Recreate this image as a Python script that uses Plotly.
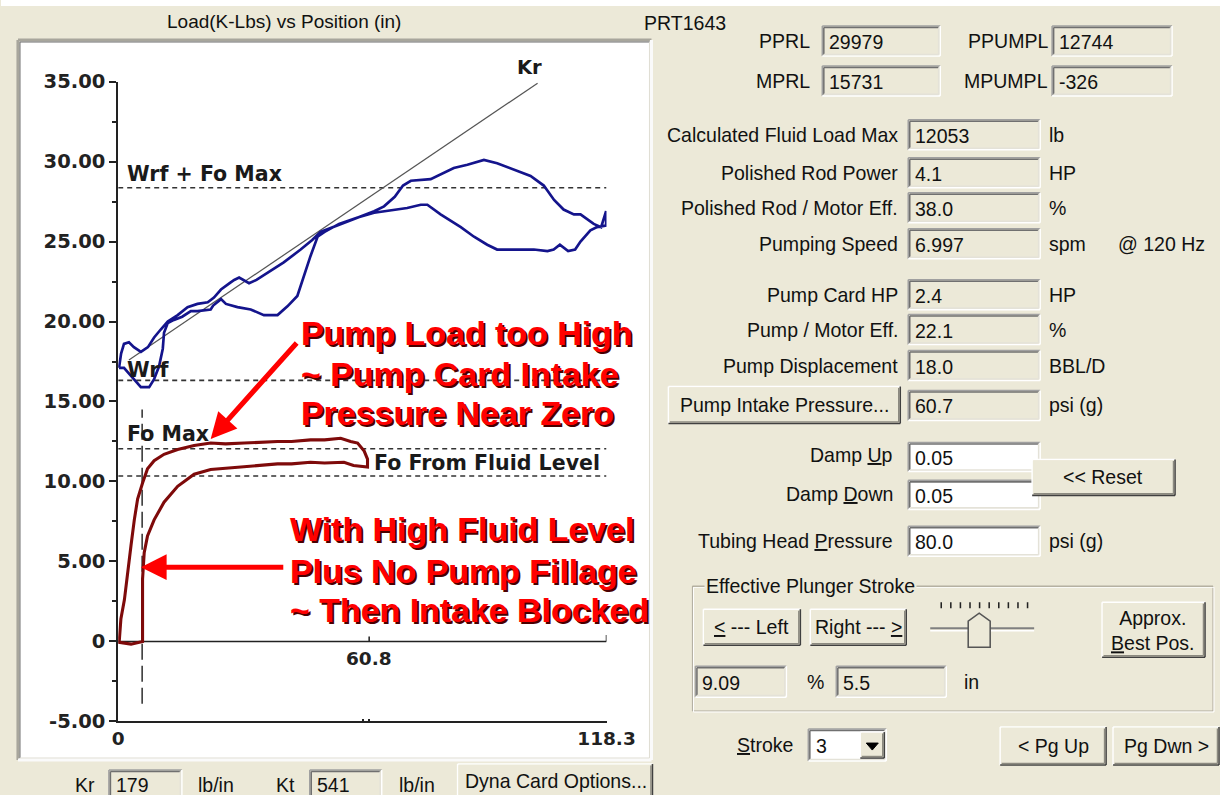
import plotly.graph_objects as go

W, H = 1220, 795          # reference pixel space used for layout positions
K = 1.0277                # page scale compensation
FW, FH = round(W * K), round(H * K)
BG = "#ECE9D8"
UI_FONT = "Liberation Sans"
UI_SIZE = 19
PLOT_FONT = "DejaVu Sans"

# ---------------- chart data ----------------
y_tick_vals = [-5, 0, 5, 10, 15, 20, 25, 30, 35]
y_tick_text = ["-5.00", "0", "5.00", "10.00", "15.00", "20.00", "25.00", "30.00", "35.00"]
y_minor_vals = [-2.5, 2.5, 7.5, 12.5, 17.5, 22.5, 27.5, 32.5]
x_tick_vals = [0, 118.3]
x_tick_text = ["0", "118.3"]
x_minor_vals = [59.4, 60.8]
x_mid_tick = 60.8
x_mid_label = "60.8"

# surface (polished rod) card: position (in), load (K-lbs)
surface_pos = [0.2, 0.7, 1.4, 2.6, 3.8, 5.5, 7.2, 8.7, 10.3, 12.0, 14.4, 16.8, 19.2, 21.7, 23.2,
               24.9, 27.0, 28.1, 29.3, 30.5, 31.7, 33.5, 36.2, 40.1, 44.2, 47.0, 49.0, 53.1, 58.0,
               62.0, 64.4, 67.0, 69.0, 70.9, 75.7, 78.1, 81.3, 84.6, 88.6, 91.8, 95.8, 99.9,
               103.1, 105.6, 107.9, 110.4, 112.0, 115.2, 117.0, 118.2, 118.2, 116.0,
               114.4, 112.0, 110.7, 109.0, 107.0, 105.5, 104.0, 100.7, 96.7, 91.8, 89.4, 86.2,
               83.0, 78.1, 74.9, 73.3, 70.0, 66.9, 64.4, 62.0, 58.0, 53.5, 50.0, 48.3, 46.6,
               45.0, 43.4, 41.0, 38.6, 35.3, 32.1, 28.9, 26.1, 24.9, 23.0, 22.4, 19.2, 17.6,
               15.5, 13.5, 12.0, 11.1, 10.8, 9.9, 8.7, 7.5, 5.5, 3.1, 1.4, 0.2]
surface_load = [17.1, 18.0, 18.6, 18.7, 18.4, 18.1, 18.4, 19.0, 19.5, 20.0, 20.4, 20.9, 21.1, 21.2, 21.5,
                22.0, 22.4, 22.6, 22.75, 22.6, 22.4, 22.6, 23.05, 23.7, 24.5, 25.1, 25.6, 26.0, 26.5,
                26.9, 27.2, 27.8, 28.5, 28.8, 28.9, 29.2, 29.6, 29.8, 30.1, 29.9, 29.5, 29.1,
                28.5, 27.6, 27.0, 26.7, 26.7, 26.1, 25.9, 26.9, 26.0, 25.9,
                25.7, 25.0, 24.5, 24.4, 24.8, 24.5, 24.4, 24.5, 24.5, 24.5, 24.8, 25.3,
                25.9, 26.7, 27.3, 27.3, 27.1, 27.0, 26.9, 26.8, 26.5, 26.1, 25.6, 25.3, 24.1,
                22.8, 21.6, 20.95, 20.4, 20.4, 20.75, 20.9, 21.1, 21.4, 21.0, 20.75, 20.65, 20.65,
                20.3, 20.1, 19.9, 19.3, 18.3, 17.2, 16.4, 15.9, 15.9, 16.6, 17.1, 17.1]

# pump card
pump_pos = [0.25, 0.65, 1.5, 2.3, 3.1, 3.9, 4.7, 5.9, 7.1, 8.7, 11.1, 14.4, 18.4, 22.4, 26.0,
            30.5, 34.0, 38.6, 42.0, 46.6, 50.0, 53.9, 56.3, 58.0, 59.6, 60.4, 60.4,
            57.0, 54.7, 50.0, 46.6, 42.0, 38.6, 34.0, 30.5, 26.0, 22.4, 18.4, 14.4, 11.1,
            8.7, 7.1, 6.3, 5.9, 5.9, 5.9, 5.9, 3.1, 0.25, 0.25]
pump_load = [0.0, 1.4, 2.6, 4.5, 6.0, 7.6, 8.9, 9.9, 10.8, 11.3, 11.7, 12.0, 12.25, 12.4, 12.35,
             12.4, 12.45, 12.5, 12.5, 12.6, 12.6, 12.7, 12.5, 12.4, 11.9, 11.4, 10.9,
             11.0, 11.2, 11.15, 11.2, 11.1, 11.1, 11.0, 10.95, 10.85, 10.75, 10.45, 9.7, 8.7,
             7.6, 6.6, 5.55, 3.9, 2.2, 0.97, 0.0, -0.17, -0.06, 0.0]

kr_pos = [2.6, 101.6]
kr_load = [17.6, 34.9]

ref_names = ["Wrf + Fo Max", "Wrf", "Fo Max", "Fo From Fluid Level"]
ref_loads = [28.37, 16.32, 12.05, 10.34]
ref_label_pos = [1.6, 1.6, 1.6, 61.6]
ref_label_load = [29.2, 17.0, 12.95, 11.15]

marker_pos = 5.8
marker_load = [-3.9, 14.5]

note1_lines = ["Pump Load too High", "~ Pump Card Intake", "Pressure Near Zero"]
note2_lines = ["With High Fluid Level", "Plus No Pump Fillage", "~ Then Intake Blocked"]

# ---------------- form data ----------------
top_labels = ["PPRL", "PPUMPL", "MPRL", "MPUMPL"]
top_values = ["29979", "12744", "15731", "-326"]
field_labels = ["Calculated Fluid Load Max", "Polished Rod Power", "Polished Rod / Motor Eff.",
                "Pumping Speed", "Pump Card HP", "Pump / Motor Eff.", "Pump Displacement"]
field_values = ["12053", "4.1", "38.0", "6.997", "2.4", "22.1", "18.0"]
field_units = ["lb", "HP", "%", "spm", "HP", "%", "BBL/D"]
field_rows_px = [135, 173, 208, 244, 295, 330, 366]

shapes, annos = [], []


def yp(y):
    return 1 - y / H


def line(x0, y0, x1, y1, color, w=1.5, layer="below"):
    shapes.append(dict(type="line", xref="paper", yref="paper", x0=x0 / W, x1=x1 / W, y0=yp(y0),
                       y1=yp(y1), line=dict(color=color, width=w * K), layer=layer))


def rect(x0, y0, x1, y1, fill, layer="below"):
    shapes.append(dict(type="rect", xref="paper", yref="paper", x0=x0 / W, x1=x1 / W,
                       y0=yp(y1), y1=yp(y0), fillcolor=fill, line=dict(width=0), layer=layer))


def bevel(x0, y0, x1, y1, tl, br, w=1.5, layer="below"):
    line(x0, y0, x1, y0, tl, w, layer)
    line(x0, y0, x0, y1, tl, w, layer)
    line(x0, y1, x1, y1, br, w, layer)
    line(x1, y0, x1, y1, br, w, layer)


def sunken(x0, y0, x1, y1, fill=BG):
    rect(x0, y0, x1, y1, fill)
    bevel(x0, y0, x1, y1, "#A0A0A0", "#FFFFFF")
    bevel(x0 + 1.5, y0 + 1.5, x1 - 1.5, y1 - 1.5, "#707070", "#E4E2D8")


def raised(x0, y0, x1, y1):
    rect(x0, y0, x1, y1, BG)
    bevel(x0, y0, x1, y1, "#FFFFFF", "#404040")
    bevel(x0 + 1.5, y0 + 1.5, x1 - 1.5, y1 - 1.5, BG, "#8C8A80")


def text(x, y, s, anchor="left", size=UI_SIZE, color="#111111", family=UI_FONT, bg=None,
         weight="normal", shadow=None):
    font = dict(family=family, size=size * K, color=color, weight=weight)
    if shadow:
        font["shadow"] = shadow
    a = dict(xref="paper", yref="paper", x=x / W, y=yp(y), text=s, showarrow=False,
             xanchor=anchor, yanchor="middle", font=font)
    if bg:
        a["bgcolor"] = bg
    annos.append(a)


# ---------------- window chrome ----------------
rect(0, 0, W, 6, "#FFFFFF")
text(283, 22, "Load(K-Lbs) vs Position (in)", "center", 18.5)

# white chart panel
rect(17, 40, 651, 761, "#FFFFFF")
bevel(17, 40, 651, 761, "#A8A69C", "#FAFAFA", w=3)
bevel(19, 42, 649, 759, "#6E6E6E", "#E0DED4", w=1)

# ---------------- right panel ----------------
text(642, 23, "PRT1643")
for i, (lab, val) in enumerate(zip(top_labels, top_values)):
    col, row = i % 2, i // 2
    yc = 41 + row * 40
    lx, bx0, bx1 = (812, 822, 940) if col == 0 else (1050, 1052, 1172)
    text(lx, yc, lab, "right")
    sunken(bx0, yc - 15, bx1, yc + 15)
    text(bx0 + 5, yc + 1, val)

for lab, val, unit, yc in zip(field_labels, field_values, field_units, field_rows_px):
    text(900, yc, lab, "right")
    sunken(908, yc - 15, 1040, yc + 15)
    text(913, yc + 1, val)
    text(1047, yc, unit)
text(1116, 244, "@ 120 Hz")

raised(668, 387, 900, 424)
text(784, 406, "Pump Intake Pressure...", "center")
sunken(908, 391, 1040, 421)
text(913, 407, "60.7")
text(1047, 406, "psi (g)")

text(895, 456, "Damp <u>U</u>p", "right")
sunken(908, 443, 1040, 472, "#FFFFFF")
text(913, 459, "0.05")
text(895, 495, "Damp <u>D</u>own", "right")
sunken(908, 481, 1040, 510, "#FFFFFF")
text(913, 497, "0.05")
raised(1032, 460, 1175, 496)
text(1103, 478, "&lt;&lt; Reset", "center")

text(895, 542, "Tubing Head <u>P</u>ressure", "right")
sunken(908, 527, 1040, 557, "#FFFFFF")
text(913, 543, "80.0")
text(1047, 542, "psi (g)")

# group box
bevel(692, 587, 1213, 712, "#ACA899", "#ACA899", w=1)
bevel(693, 588, 1214, 713, "#FFFFFF", "#FFFFFF", w=1)
line(692, 587, 1213, 587, "#ACA899", 1)
text(704, 587, "Effective Plunger Stroke", bg=BG)

raised(703, 610, 800, 646)
text(751, 628, "<u>&lt;</u> --- Left", "center")
raised(810, 610, 906, 646)
text(858, 628, "Right --- <u>&gt;</u>", "center")
# slider
line(930, 629, 1034, 629, "#808080", 2)
line(930, 631.5, 1034, 631.5, "#FFFFFF", 1.5)
for i in range(10):
    tx = 941 + i * 9.6
    line(tx, 603, tx, 609, "#222222", 1.5)
thumb = "M {a},{b} L {c},{b} L {c},{d} L {e},{f} L {a},{d} Z".format(
    a=968 / W, b=yp(648), c=990 / W, d=yp(622), e=979 / W, f=yp(614))
shapes.append(dict(type="path", xref="paper", yref="paper", path=thumb, fillcolor=BG,
                   line=dict(color="#555555", width=1.5 * K), layer="below"))
raised(1102, 603, 1205, 658)
text(1153, 631, "Approx.<br><u>B</u>est Pos.", "center")
sunken(695, 667, 786, 698)
text(700, 684, "9.09")
text(805, 683, "%")
sunken(836, 667, 946, 698)
text(841, 684, "5.5")
text(962, 683, "in")

text(735, 746, "<u>S</u>troke")
sunken(808, 730, 886, 762, "#FFFFFF")
text(814, 747, "3")
raised(860, 733, 884, 759)
tri = "M {a},{b} L {c},{b} L {d},{e} Z".format(a=866 / W, b=yp(744), c=878 / W, d=872 / W, e=yp(751))
shapes.append(dict(type="path", xref="paper", yref="paper", path=tri, fillcolor="#000000",
                   line=dict(color="#000000", width=1), layer="below"))
raised(1000, 728, 1106, 766)
text(1053, 747, "&lt; Pg Up", "center")
raised(1113, 728, 1219, 766)
text(1166, 747, "Pg Dwn &gt;", "center")

# bottom bar
text(96, 786, "Kr", "right")
sunken(108, 771, 181, 800)
text(113, 786, "179")
text(195, 786, "lb/in")
text(296, 786, "Kt", "right")
sunken(309, 771, 381, 800)
text(314, 786, "541")
text(396, 786, "lb/in")
raised(457, 765, 652, 800)
text(555, 782, "Dyna Card Options...", "center")

# ---------------- chart traces ----------------
fig = go.Figure()

for lv in ref_loads:
    fig.add_trace(go.Scatter(x=[0, x_tick_vals[-1]], y=[lv, lv], mode="lines",
                             line=dict(color="#333333", width=1.5 * K, dash="5px,4px"),
                             hoverinfo="skip", showlegend=False))
fig.add_trace(go.Scatter(x=[0, x_tick_vals[-1]], y=[0, 0], mode="lines",
                         line=dict(color="#222222", width=1.5 * K), hoverinfo="skip", showlegend=False))
fig.add_trace(go.Scatter(x=[marker_pos, marker_pos], y=marker_load, mode="lines",
                         line=dict(color="#333333", width=1.5 * K, dash="16px,6px"),
                         hoverinfo="skip", showlegend=False))
fig.add_trace(go.Scatter(x=kr_pos, y=kr_load, mode="lines",
                         line=dict(color="#555555", width=1.2 * K), hoverinfo="skip", showlegend=False))
fig.add_trace(go.Scatter(x=surface_pos, y=surface_load, mode="lines",
                         line=dict(color="#14148C", width=2.6 * K), name="Surface card", showlegend=False))
fig.add_trace(go.Scatter(x=pump_pos, y=pump_load, mode="lines",
                         line=dict(color="#7E0A0A", width=3 * K), name="Pump card", showlegend=False))

# ticks on the y=0 axis
for xv, tl in [(x_mid_tick, 0.3), (x_tick_vals[-1], 0.4)]:
    shapes.append(dict(type="line", xref="x", yref="y", x0=xv, x1=xv, y0=0, y1=tl,
                       line=dict(color="#222222", width=1.5 * K)))
annos.append(dict(xref="x", yref="y", x=x_mid_tick, y=0, yshift=-4 * K, text=x_mid_label,
                  showarrow=False, xanchor="center", yanchor="top",
                  font=dict(family=PLOT_FONT, size=18 * K, color="#222222", weight="bold")))

# reference line labels
for name, lx, ly in zip(ref_names, ref_label_pos, ref_label_load):
    annos.append(dict(xref="x", yref="y", x=lx, y=ly, text=name, showarrow=False,
                      xanchor="left", yanchor="middle",
                      font=dict(family=PLOT_FONT, size=20 * K, color="#1A1A1A", weight="bold")))
# Kr label sits just above the plotting range, so place it in page units
text(529, 68, "Kr", "center", 19, "#1A1A1A", PLOT_FONT, weight="bold")

# red notes with dark shadow
for lines, x0, ys in [(note1_lines, 298, [333, 374, 414]), (note2_lines, 287, [530, 572, 611])]:
    for s, yc in zip(lines, ys):
        text(x0, yc, s, "left", 33, "#FF0000", "Liberation Sans", weight="bold",
             shadow="2px 2px 0px #4A0000")

# arrows
annos.append(dict(xref="x", yref="y", x=22.4, y=12.65, ax=85 * K, ay=-95 * K, axref="pixel",
                  ayref="pixel", showarrow=True, arrowhead=2, arrowsize=1.0, arrowwidth=5 * K,
                  arrowcolor="#FF0000", text=""))
annos.append(dict(xref="x", yref="y", x=5.5, y=4.64, ax=140 * K, ay=0, axref="pixel", ayref="pixel",
                  showarrow=True, arrowhead=2, arrowsize=1.0, arrowwidth=5 * K,
                  arrowcolor="#FF0000", text=""))

xdom = [117.3 / W, 606.0 / W]
ydom = [1 - 722.3 / H, 1 - 81.7 / H]
fig.update_layout(
    width=FW, height=FH, margin=dict(l=0, r=0, t=0, b=0),
    paper_bgcolor=BG, plot_bgcolor="rgba(0,0,0,0)",
    shapes=shapes, annotations=annos, showlegend=False,
    xaxis=dict(domain=xdom, range=[0, x_tick_vals[-1]], showgrid=False, zeroline=False,
               showline=True, linecolor="#222222", linewidth=1.5 * K, ticks="inside", ticklen=6 * K,
               tickwidth=1.5 * K, tickcolor="#222222", tickvals=x_tick_vals, ticktext=x_tick_text,
               tickfont=dict(family=PLOT_FONT, size=18 * K, color="#222222", weight="bold"),
               minor=dict(tickvals=x_minor_vals, ticks="inside", ticklen=3 * K, tickcolor="#222222"),
               fixedrange=True),
    yaxis=dict(domain=ydom, range=[-5, 35], showgrid=False, zeroline=False,
               showline=True, linecolor="#222222", linewidth=1.5 * K, ticks="outside", ticklen=7 * K,
               tickwidth=1.5 * K, tickcolor="#222222", tickvals=y_tick_vals, ticktext=y_tick_text,
               tickfont=dict(family=PLOT_FONT, size=19 * K, color="#222222", weight="bold"),
               minor=dict(tickvals=y_minor_vals, ticks="outside", ticklen=4 * K, tickcolor="#222222"),
               fixedrange=True),
)

fig.write_html("out.html", config={"displayModeBar": False},
               post_script="document.body.style.margin='-11px 0 0 -5px';"
                           "document.body.style.overflow='hidden';")
